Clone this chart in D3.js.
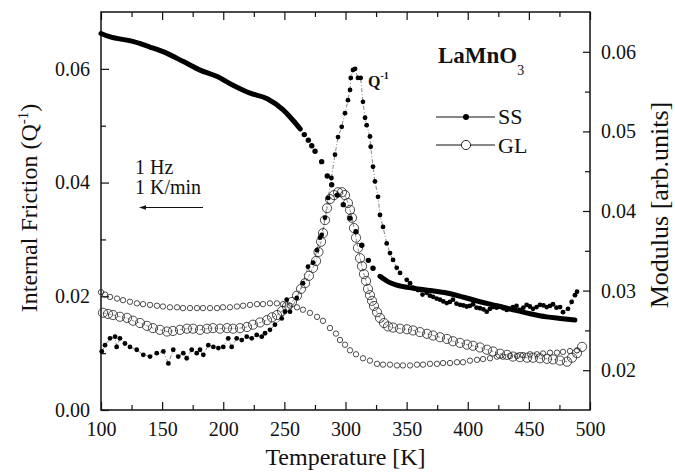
<!DOCTYPE html>
<html>
<head>
<meta charset="utf-8">
<script src="https://cdnjs.cloudflare.com/ajax/libs/d3/7.8.5/d3.min.js"></script>
<style>
  body { margin: 0; background: #fff; }
  text { font-family: "Liberation Serif", "Times New Roman", serif; fill: #111; }
</style>
</head>
<body>
<div id="chart"></div>
<script>
// ---- data ----
// SS modulus (right axis): dense part, sparse dots on the steep drop, dense tail
const ssModT1 = [100,107,126,140,154,167,181,195,208,222,236,249,257,263];
const ssModV1 = [0.0623,0.0619,0.0613,0.0606,0.0598,0.0588,0.0577,0.0569,0.0558,0.0548,0.0541,0.0527,0.0514,0.0503];
const ssModT2 = [266.3,269.6,272.4,275.1,280.5,285.1,288.7,293.3,298.2,303.7,308.6,313.3,318.7,322.5];
const ssModV2 = [0.0496,0.0489,0.0482,0.0475,0.0462,0.0444,0.0433,0.0420,0.0408,0.0391,0.0374,0.0357,0.0338,0.0328];
const ssModT3 = [328.2,335,341.9,355.2,369.1,382.8,396.1,410,423.9,437,450.9,464.6,475.5,487.7];
const ssModV3 = [0.0318,0.0311,0.0307,0.0303,0.0300,0.0297,0.0292,0.0286,0.0281,0.0276,0.0271,0.0267,0.0265,0.0263];

// SS internal friction (left axis)
const ssQT = [100.6,103.3,107.4,111.5,112.8,115.5,119.6,123.7,129.2,134.6,140.1,145.6,151,155.1,159.1,163.2,167.3,170.1,174.2,178.3,181,183.7,187.8,191.9,196,200,204.1,206.9,211,215.1,219.2,223.3,227.4,231.5,234.2,238.2,242.3,247.8,250.5,251.9,254.6,260.1,265.2,269.3,273.4,276.7,279.1,280.5,283.2,285.7,288.5,291.4,293.9,296.9,299.6,302,303.7,304.3,306.1,307.8,310.2,312.4,314.3,316,317.3,320,320.6,322.5,324.1,326.6,328.2,330.7,333.7,336.4,338.9,341.9,344.6,350.1,352.8,355.2,359.3,363,366.4,369,371.6,374.5,377.3,380,382.8,385.4,387.9,390.8,393.7,396.4,399.1,401.7,404.3,407.2,410,412.8,415.5,418.1,420.7,423.6,426.4,429.2,431.9,434.5,437,439.9,442.7,445.5,448.2,450.8,453.4,456.3,459.1,461.9,464.6,467.2,469.7,472.6,475.5,477.9,482,485,487.7,489.4];
const ssQV = [0.0103,0.0114,0.0126,0.0129,0.0111,0.0126,0.0117,0.0111,0.0106,0.0097,0.0094,0.0100,0.0103,0.0082,0.0106,0.0094,0.0100,0.0091,0.0106,0.0100,0.0106,0.0097,0.0114,0.0111,0.0109,0.0111,0.0126,0.0111,0.0126,0.0123,0.0129,0.0126,0.0132,0.0129,0.0135,0.0141,0.0150,0.0161,0.0173,0.0194,0.0173,0.0197,0.0223,0.0252,0.0259,0.0281,0.0303,0.0308,0.0338,0.0373,0.0408,0.0449,0.0480,0.0498,0.0522,0.0545,0.0563,0.0584,0.0598,0.0600,0.0584,0.0584,0.0542,0.0514,0.0501,0.0481,0.0463,0.0428,0.0402,0.0375,0.0343,0.0322,0.0293,0.0276,0.0264,0.0250,0.0241,0.0229,0.0223,0.0215,0.0211,0.0203,0.0206,0.0201,0.0199,0.0196,0.0194,0.0191,0.0188,0.0190,0.0194,0.0187,0.0185,0.0184,0.0182,0.0183,0.0186,0.0180,0.0179,0.0177,0.0173,0.0178,0.0181,0.0180,0.0182,0.0179,0.0176,0.0178,0.0181,0.0183,0.0176,0.0180,0.0185,0.0182,0.0178,0.0181,0.0185,0.0184,0.0181,0.0183,0.0186,0.0180,0.0181,0.0172,0.0178,0.0190,0.0202,0.0208];

// GL internal friction (left axis)
const glQT = [101.6,105.7,109.8,115.5,121.3,126.2,131.9,137.6,142.5,148.3,154,158.9,164.6,170.3,175.3,181,186.7,191.6,197.3,203.1,208,213.7,219.4,224.3,230.1,235.8,239.9,244,248.1,252.1,256.2,260.3,263.6,266.9,270.1,273.4,275.9,277.9,280,281.6,283.2,284.9,287.3,290.6,293.9,297.1,299.6,302,303.7,305.3,306.9,308.6,310.2,311.9,313.5,315.1,316.8,318.4,320,321.7,323.3,325.8,328.2,331.5,334.8,338.9,344.6,350.3,355.2,360.9,366.7,371.6,377.3,383,387.9,393.7,399.4,404.3,410,415.7,420.7,426.4,432.1,437,442.7,448.5,453.4,459.1,464.8,469.7,475.5,481.2,485.3,489.4,493.5];
const glQV = [0.0171,0.0169,0.0167,0.0164,0.0162,0.0157,0.0153,0.0148,0.0144,0.0141,0.0138,0.0139,0.0141,0.0143,0.0143,0.0141,0.0143,0.0144,0.0143,0.0144,0.0143,0.0144,0.0146,0.0150,0.0154,0.0158,0.0163,0.0167,0.0174,0.0182,0.0190,0.0201,0.0213,0.0223,0.0236,0.0250,0.0262,0.0278,0.0296,0.0311,0.0334,0.0355,0.0371,0.0378,0.0383,0.0383,0.0378,0.0364,0.0352,0.0338,0.0320,0.0303,0.0285,0.0267,0.0253,0.0239,0.0227,0.0213,0.0202,0.0192,0.0183,0.0172,0.0162,0.0153,0.0147,0.0145,0.0143,0.0142,0.0140,0.0137,0.0134,0.0131,0.0128,0.0125,0.0121,0.0118,0.0115,0.0113,0.0110,0.0106,0.0103,0.0099,0.0097,0.0094,0.0093,0.0092,0.0092,0.0091,0.0090,0.0089,0.0087,0.0085,0.0092,0.0100,0.0111];

// GL modulus (right axis)
const glModT = [100,103.3,107.4,113.1,118,123.7,129.4,134.4,140.1,145.8,150.7,156.4,162.2,167.1,172.8,178.5,183.4,189.2,194.9,199.8,205.5,211.2,216.2,221.9,227.6,232.5,238.2,243.9,248.9,254.6,260.3,265.2,270.9,276.7,281.6,287.3,292.2,295.5,299.6,303.7,308.6,314.3,320,325.8,330.7,336.4,342.1,347,352.8,358.5,363.4,369.1,374.8,379.8,385.5,391.2,396.1,401.8,407.6,412.5,418.2,423.9,428.8,434.6,440.3,445.2,450.9,456.6,461.6,467.3,473,477.9,483.6,489.4];
const glModV = [0.0298,0.0295,0.0292,0.0290,0.0288,0.0286,0.0284,0.0283,0.0282,0.0281,0.0280,0.0279,0.0279,0.0278,0.0278,0.0278,0.0278,0.0278,0.0278,0.0279,0.0279,0.0280,0.0281,0.0282,0.0283,0.0283,0.0284,0.0284,0.0283,0.0281,0.0279,0.0276,0.0272,0.0267,0.0262,0.0253,0.0246,0.0238,0.0232,0.0225,0.0220,0.0215,0.0212,0.0208,0.0207,0.0207,0.0206,0.0206,0.0206,0.0207,0.0207,0.0208,0.0208,0.0209,0.0209,0.0210,0.0210,0.0212,0.0213,0.0214,0.0215,0.0217,0.0217,0.0218,0.0218,0.0219,0.0220,0.0220,0.0221,0.0222,0.0222,0.0223,0.0224,0.0225];

// tick values
const xMajor = [100,150,200,250,300,350,400,450,500];
const xMinor = [125,175,225,275,325,375,425,475];
const yLMajor = [0,0.02,0.04,0.06];
const yLMinor = [0.01,0.03,0.05];
const yRMajor = [0.02,0.03,0.04,0.05,0.06];
const yRMinor = [0.025,0.035,0.045,0.055];

// ---- chart ----
const W = 675, H = 473;
const margin = {top: 12, right: 85, bottom: 63, left: 101};
const width = W - margin.left - margin.right;
const height = H - margin.top - margin.bottom;
const FONT = '"Liberation Serif", "Times New Roman", serif';

const svg = d3.select('#chart').append('svg').attr('width', W).attr('height', H);
const g = svg.append('g').attr('transform', `translate(${margin.left},${margin.top})`);

const x = d3.scaleLinear().domain([100, 500]).range([0, width]);
const yL = d3.scaleLinear().domain([0, 0.07]).range([height, 0]);
const yR = d3.scaleLinear().domain([0.015, 0.065]).range([height, 0]);

function styleAxis(sel) {
  sel.select('.domain').remove();
  sel.selectAll('line').attr('stroke', '#111').attr('stroke-width', 1.2);
  sel.attr('font-family', FONT).attr('font-size', 20);
  sel.selectAll('text').attr('fill', '#111');
}

// bottom / top
g.append('g').attr('transform', `translate(0,${height})`)
  .call(d3.axisBottom(x).tickValues(xMinor).tickSize(-5).tickFormat('')).call(styleAxis);
g.append('g').attr('transform', `translate(0,${height})`)
  .call(d3.axisBottom(x).tickValues(xMajor).tickSize(-8).tickPadding(12).tickFormat(d3.format('d'))).call(styleAxis);
g.append('g')
  .call(d3.axisTop(x).tickValues(xMinor).tickSize(-5).tickFormat('')).call(styleAxis);
g.append('g')
  .call(d3.axisTop(x).tickValues(xMajor).tickSize(-8).tickFormat('')).call(styleAxis);
// left
g.append('g').call(d3.axisLeft(yL).tickValues(yLMinor).tickSize(-5).tickFormat('')).call(styleAxis);
g.append('g').call(d3.axisLeft(yL).tickValues(yLMajor).tickSize(-8).tickPadding(11).tickFormat(d3.format('.2f'))).call(styleAxis);
// right
g.append('g').attr('transform', `translate(${width},0)`)
  .call(d3.axisRight(yR).tickValues(yRMinor).tickSize(-5).tickFormat('')).call(styleAxis);
g.append('g').attr('transform', `translate(${width},0)`)
  .call(d3.axisRight(yR).tickValues(yRMajor).tickSize(-7).tickPadding(11).tickFormat(d3.format('.2f'))).call(styleAxis);

// frame
g.append('rect').attr('width', width).attr('height', height)
  .attr('fill', 'none').attr('stroke', '#111').attr('stroke-width', 1.5);

// axis titles
svg.append('text').attr('x', margin.left + width / 2).attr('y', 465)
  .attr('text-anchor', 'middle').attr('font-size', 24).text('Temperature [K]');

const yt = svg.append('text').attr('transform', `translate(37,${margin.top + height / 2 - 3}) rotate(-90)`)
  .attr('text-anchor', 'middle').attr('font-size', 24);
yt.append('tspan').text('Internal Friction (Q');
yt.append('tspan').attr('font-size', 15).attr('dy', -9).text('-1');
yt.append('tspan').attr('dy', 9).text(')');

svg.append('text').attr('transform', `translate(668,${margin.top + height / 2 - 6}) rotate(-90)`)
  .attr('text-anchor', 'middle').attr('font-size', 26).text('Modulus [arb.units]');

// ---- series ----
const plot = g.append('g');

// GL modulus: small open circles
plot.append('g').selectAll('circle').data(d3.zip(glModT, glModV)).enter().append('circle')
  .attr('cx', d => x(d[0])).attr('cy', d => yR(d[1])).attr('r', 2.7)
  .attr('fill', 'none').attr('stroke', '#222').attr('stroke-width', 0.8);

// GL internal friction: thin line + big open circles
plot.append('path').datum(d3.zip(glQT, glQV))
  .attr('fill', 'none').attr('stroke', '#444').attr('stroke-width', 0.6).attr('stroke-dasharray', '3,2')
  .attr('d', d3.line().x(d => x(d[0])).y(d => yL(d[1])));
plot.append('g').selectAll('circle').data(d3.zip(glQT, glQV)).enter().append('circle')
  .attr('cx', d => x(d[0])).attr('cy', d => yL(d[1])).attr('r', 4.6)
  .attr('fill', 'none').attr('stroke', '#222').attr('stroke-width', 0.8);

// SS modulus: thick dense line with sparse dots on the drop
const lineR = d3.line().curve(d3.curveMonotoneX).x(d => x(d[0])).y(d => yR(d[1]));
[d3.zip(ssModT1, ssModV1), d3.zip(ssModT3, ssModV3)].forEach(seg => {
  plot.append('path').datum(seg)
    .attr('fill', 'none').attr('stroke', '#000').attr('stroke-width', 5)
    .attr('stroke-linecap', 'round').attr('stroke-linejoin', 'round').attr('d', lineR);
});
plot.append('g').selectAll('circle').data(d3.zip(ssModT2, ssModV2)).enter().append('circle')
  .attr('cx', d => x(d[0])).attr('cy', d => yR(d[1])).attr('r', 2.7).attr('fill', '#000');

// SS internal friction: thin dashed line + filled dots
plot.append('path').datum(d3.zip(ssQT, ssQV))
  .attr('fill', 'none').attr('stroke', '#333').attr('stroke-width', 0.6).attr('stroke-dasharray', '4,2,1,2')
  .attr('d', d3.line().x(d => x(d[0])).y(d => yL(d[1])));
plot.append('g').selectAll('circle').data(d3.zip(ssQT, ssQV)).enter().append('circle')
  .attr('cx', d => x(d[0])).attr('cy', d => yL(d[1])).attr('r', 2.4).attr('fill', '#000');

// ---- annotations ----
const q = svg.append('text').attr('x', 368).attr('y', 87).attr('font-size', 16).attr('font-weight', 'bold');
q.append('tspan').text('Q');
q.append('tspan').attr('font-size', 10).attr('dy', -8).text('-1');

const lab = svg.append('text').attr('x', 438).attr('y', 63).attr('font-size', 23).attr('font-weight', 'bold');
lab.append('tspan').text('LaMnO');
lab.append('tspan').attr('font-size', 14).attr('font-weight', 'normal').attr('dy', 12).text('3');

// legend
const legend = svg.append('g');
legend.append('line').attr('x1', 436).attr('x2', 495).attr('y1', 117).attr('y2', 117).attr('stroke', '#111').attr('stroke-width', 1);
legend.append('circle').attr('cx', 466).attr('cy', 117).attr('r', 3).attr('fill', '#000');
legend.append('text').attr('x', 498).attr('y', 124).attr('font-size', 22).text('SS');
legend.append('line').attr('x1', 436).attr('x2', 495).attr('y1', 145).attr('y2', 145).attr('stroke', '#111').attr('stroke-width', 1);
legend.append('circle').attr('cx', 466).attr('cy', 145).attr('r', 4.6).attr('fill', '#fff').attr('stroke', '#111').attr('stroke-width', 0.9);
legend.append('text').attr('x', 498).attr('y', 153).attr('font-size', 22).text('GL');

// measurement conditions
svg.append('text').attr('x', 135).attr('y', 174).attr('font-size', 20).text('1 Hz');
svg.append('text').attr('x', 135).attr('y', 194).attr('font-size', 20).text('1 K/min');
svg.append('line').attr('x1', 203).attr('x2', 142).attr('y1', 207.5).attr('y2', 207.5).attr('stroke', '#111').attr('stroke-width', 1);
svg.append('path').attr('d', 'M139,207.5 L146,205.3 L146,209.7 Z').attr('fill', '#111');
</script>
</body>
</html>
